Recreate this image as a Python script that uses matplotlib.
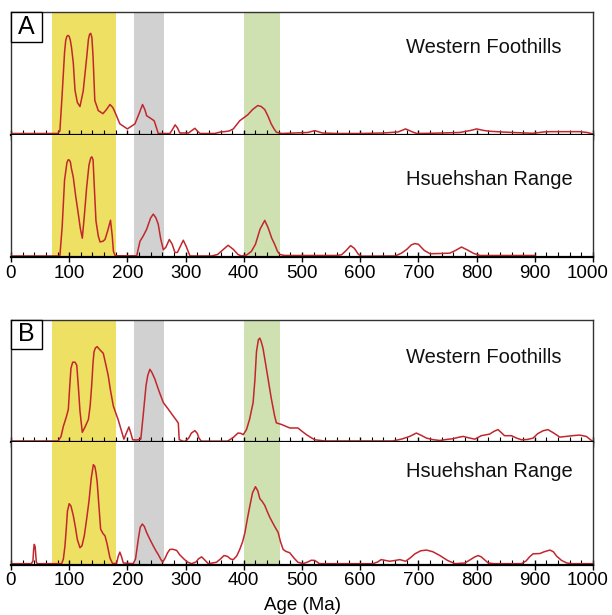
import matplotlib
matplotlib.use("Agg")
import matplotlib.pyplot as plt
from matplotlib.patches import Rectangle
from matplotlib.ticker import MultipleLocator
from matplotlib.transforms import ScaledTranslation

plt.rcParams['font.family'] = ['Liberation Sans', 'DejaVu Sans']

# -------------------------------------------------
# Data (age in Ma, relative probability)
# -------------------------------------------------
wf_a_age = [0, 80, 84, 88, 92, 94, 96, 98, 100, 102, 104, 107, 110, 114, 118.5, 124, 130, 133, 135,
            137, 139, 141, 144, 150, 158, 164, 170, 175, 179, 187, 200, 213, 220, 226, 230, 233, 241,
            246, 250, 253, 273, 278, 282, 286, 290, 305, 312, 316, 320, 325, 350, 360, 367, 375, 382,
            393, 400, 407, 415, 424, 430, 436, 442, 447, 452, 456, 465, 510, 522, 535, 560, 600, 640,
            665, 678, 690, 697, 720, 771, 790, 800, 812, 822, 850, 897, 915, 926, 955, 977, 990, 1000]
wf_a_val = [0.5, 0.5, 3, 40, 80, 92, 96, 97, 96, 92, 85, 70, 43, 31, 27, 42, 75, 93, 98,
            99, 95, 76, 33, 23, 20, 24, 29, 26, 21, 10, 5, 10, 20, 29, 24, 18, 15,
            13, 6, 0.5, 0.5, 5, 9, 6, 1, 1, 4, 5.6, 3, 0.5, 0.5, 2, 2.3, 3, 5,
            13, 16, 19, 24, 28, 27, 24, 17, 10, 5, 1.7, 0.5, 1.5, 3.3, 1, 0.5, 0.5, 1,
            2, 5, 2, 0.5, 0.7, 1.5, 3.5, 5, 3.5, 2.7, 1.8, 0.7, 2, 2.3, 2.3, 2.3, 1.5, 0]

hr_a_age = [0, 84, 88, 92, 96, 98, 100, 102, 104, 107, 111, 115.6, 119, 122.5, 126, 130, 134, 137, 139,
            141, 142.6, 146, 150, 153, 158, 161.5, 166, 171, 174, 176, 179, 216, 221.6, 227, 233, 240,
            244.5, 249, 253, 257, 261.7, 266, 272, 277, 281.6, 286, 291, 296, 301, 307.5, 345, 355,
            365, 373, 382, 390, 396, 405, 413, 420, 428, 436, 442, 448, 453, 458, 462, 470, 560, 568,
            576, 583.5, 590, 597, 602.5, 660, 671, 680, 688, 694, 700, 710, 720, 740, 754, 764, 774,
            784, 795, 806, 900]
hr_a_val = [0.5, 0.5, 30, 75, 92, 95, 95, 93, 86, 78, 60, 42, 28, 18, 40, 68, 90, 97, 98,
            95, 75, 35, 20, 14.3, 15, 16.7, 25, 35.7, 20, 5, 0.7, 0.7, 15, 20, 26.7, 38,
            41.7, 38, 31.7, 18, 6.7, 9, 16.7, 12, 4, 4, 10, 16, 10, 0.5, 0.5, 2,
            7, 11, 7, 2, 0.5, 1.5, 5, 12, 27, 35.5, 28, 18, 12, 5, 2, 1, 1, 1.7,
            6, 10.7, 8, 2, 0.3, 0.5, 3.3, 7, 11.5, 12.7, 12, 6, 2.7, 3, 3.3, 6, 9.3,
            6.5, 3, 1, 1]

wf_b_age = [0, 81, 86, 90, 95, 98.5, 101, 103, 106, 110, 113, 115.6, 118.5, 122.5, 127, 133, 136,
            138.6, 141, 142.6, 145, 148, 153, 158.6, 162, 167, 171, 175.8, 180, 184, 189, 194, 198,
            202.6, 206, 209, 216, 223, 227, 232, 235, 238.6, 242, 247, 254, 261.7, 270, 278.8, 284,
            287.5, 289, 294, 298.7, 305, 310, 316, 320, 323, 327, 372, 382, 390, 395, 399, 404.6,
            410, 416, 419, 421.8, 425, 427.5, 430, 433, 437, 441.7, 447, 453, 456, 465, 472, 479,
            486, 493, 500, 507.7, 515, 522, 539, 656, 672, 685, 696.5, 705, 714, 725, 737, 748,
            759, 768, 777, 787, 797, 808, 822.5, 830, 836.7, 842, 848, 860, 868, 877, 887, 897,
            905, 914, 922.5, 932, 943, 954, 966, 977, 988.5, 995, 1000]
wf_b_val = [0.5, 0.5, 5, 15, 24, 31.7, 55, 72, 78, 78, 75, 55, 30, 9, 14, 21.7, 35,
            55, 78, 88, 92, 93.3, 90, 86.7, 78, 65, 50, 35, 28, 21.7, 12, 2.3, 8,
            14.3, 8, 1.7, 1.5, 2.3, 25, 55, 65, 71, 68, 61.7, 50, 38.3, 32, 25, 21,
            18, 2, 0.5, 0, 3, 8.3, 10.7, 8, 3.3, 0.3, 0.3, 4, 8.3, 8, 6.7, 11.7,
            22, 38.3, 60, 88.3, 100, 101.7, 98, 91.7, 78, 61.7, 43, 25, 18.3, 16.7, 15, 13.3,
            13.3, 13.3, 10, 6.7, 4, 1.7, 0.5, 0.5, 2.5, 5, 8.3, 6, 3.3, 1.8, 1, 2,
            2.7, 4, 5, 3.5, 2.3, 5.7, 7.3, 10, 11.7, 9, 5.7, 5.7, 3.5, 1.7, 2, 3.3,
            7.7, 10.5, 11.7, 8.5, 4.3, 5, 5.8, 6.3, 5, 2, 0]

hr_b_age = [0, 35, 37.7, 39, 40, 41.5, 43.5, 45, 87, 90, 92.7, 95, 97, 100, 103, 107, 111, 114,
            118.5, 122, 126, 130, 134, 138, 141.5, 144, 146, 148, 151, 154, 158, 161.5, 165, 170,
            174, 176, 181.6, 184, 187, 190, 193, 210, 214, 218.7, 222, 225.6, 229, 233, 238, 244.5,
            249, 253, 257, 260.6, 265, 269, 273, 278, 284.7, 290, 297, 303, 310, 318, 322, 327.5,
            332, 339, 353, 360, 366, 372, 377, 382, 388, 393, 398, 402, 406, 410.6, 415, 420, 424,
            427.5, 431, 436, 440, 444.6, 452, 459, 463, 467.6, 472, 479, 486, 493, 502, 510, 516,
            522, 530, 622, 630, 636, 643, 650.6, 660, 668, 673, 678, 686, 694, 704, 714, 725, 737,
            750, 763, 780, 790, 797, 802.6, 808, 814, 820, 830, 877, 885, 891, 897, 908.8, 916,
            926, 932, 937.5, 946, 954.8, 965, 1000]
hr_b_val = [0.3, 0.3, 3, 15, 19.3, 17, 2, 0.3, 0.3, 5, 17.7, 35, 52, 59.3, 57, 47.7, 35, 24,
            16, 18, 28, 44.3, 62, 85, 97.7, 96, 90, 81, 58, 34.3, 30, 27.7, 20, 6,
            1, 0.3, 1, 7, 11.7, 7, 1, 0.3, 5, 24.3, 36, 39.3, 37, 31, 25, 17.7,
            13, 9.3, 5, 1.7, 6, 11, 14.3, 14.5, 13.3, 9, 5, 2, 0.3, 2, 5, 7,
            4.5, 0.3, 1.7, 5, 8.3, 7.5, 5, 4.3, 8, 14.3, 22, 31, 44, 57.7, 70, 76, 72,
            64.3, 62, 57.7, 52, 46, 38, 31, 22, 14.3, 12.5, 11, 6, 1.7, 0.3, 2, 3.7,
            3.5, 0.3, 0.3, 2, 4.3, 3.5, 2.7, 3.5, 4.3, 3.5, 2.7, 6, 10, 13, 13.7, 12, 8.3,
            3.5, 0.3, 1, 4.5, 7, 8.3, 7, 4, 1, 0.3, 0.3, 3, 7, 10, 10.3, 12,
            13.7, 12, 7.7, 3.5, 1, 0.3, 0.3]

band_ranges = [(70, 180), (211, 263), (400, 463)]
band_colors = ["#EEE062", "#D1D1D1", "#CFE0B1"]

panels = [
    ("A", [("Western Foothills", wf_a_age, wf_a_val, 0.71),
           ("Hsuehshan Range", hr_a_age, hr_a_val, 0.633)]),
    ("B", [("Western Foothills", wf_b_age, wf_b_val, 0.69),
           ("Hsuehshan Range", hr_b_age, hr_b_val, 0.763)]),
]

# -------------------------------------------------
# Layout (pixel geometry of the original figure)
# -------------------------------------------------
W, H = 612, 615
left_px, right_px = 11, 593
panel_tops = [12, 319.5]
sub_h = 122.5

fig = plt.figure(figsize=(W / 100, H / 100), dpi=100)
line_color = "#C1272D"
bottom_axes = []

for (letter, subs), top_px in zip(panels, panel_tops):
    for i, (label, ages, vals, ty) in enumerate(subs):
        y_top = top_px + i * sub_h
        ax = fig.add_axes([left_px / W, 1 - (y_top + sub_h) / H,
                           (right_px - left_px) / W, sub_h / H])
        for (x0, x1), c in zip(band_ranges, band_colors):
            ax.axvspan(x0, x1, color=c, lw=0, zorder=0)
        ax.plot(ages, vals, color=line_color, lw=1.1, zorder=2)
        ax.set_xlim(0, 1000)
        ax.set_ylim(-0.5, 120)
        ax.set_yticks([])
        ax.xaxis.set_major_locator(MultipleLocator(100))
        ax.xaxis.set_minor_locator(MultipleLocator(20))
        ax.tick_params(axis="x", which="major", direction="inout", length=7, width=1.0,
                       labelsize=13.5, pad=2, colors="black")
        ax.tick_params(axis="x", which="minor", direction="in", length=3.5, width=0.8)
        for side in ("left", "right", "top"):
            ax.spines[side].set_color("#333333")
            ax.spines[side].set_linewidth(1.0)
        ax.spines["bottom"].set_color("black")
        ax.spines["bottom"].set_linewidth(1.6)
        ax.text(0.679, ty, label, transform=ax.transAxes, fontsize=14.5,
                ha="left", va="center", color="#111111")
        if i == 0:
            ax.tick_params(axis="x", labelbottom=False)
            box_w = 31 / (right_px - left_px)
            box_h = 29.5 / sub_h
            ax.add_patch(Rectangle((0, 1 - box_h), box_w, box_h, transform=ax.transAxes,
                                   facecolor="white", edgecolor="black", lw=1.0,
                                   zorder=5, clip_on=False))
            ax.text(box_w / 2, 1 - box_h / 2, letter, transform=ax.transAxes,
                    fontsize=18, ha="center", va="center", zorder=6)
        else:
            ax.spines["top"].set_visible(False)
            bottom_axes.append(ax)

# draw once so the tick objects exist, then nudge the "1000" label inward
fig.canvas.draw()
for ax in bottom_axes:
    for tick in ax.xaxis.get_major_ticks():
        if abs(tick.get_loc() - 1000) < 1e-6:
            lab = tick.label1
            lab.set_transform(lab.get_transform() +
                              ScaledTranslation(-5.5 / 100, 0, fig.dpi_scale_trans))

fig.text((left_px + right_px) / 2 / W, 1 - 605 / H, "Age (Ma)", fontsize=13.5,
         ha="center", va="center")

fig.savefig("out.png", dpi=100)
